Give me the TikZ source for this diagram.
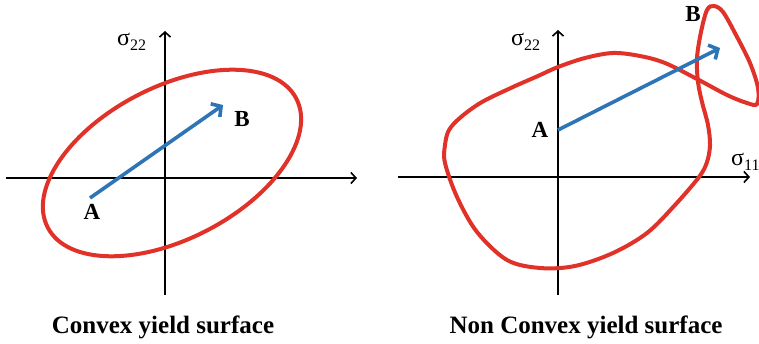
\documentclass[tikz,border=0pt]{standalone}
\usepackage{fontspec}
\setmainfont{Liberation Serif}
\usetikzlibrary{arrows.meta}
\definecolor{redc}{RGB}{224,50,40}
\definecolor{bluec}{RGB}{46,117,182}
\newcommand\sigl[1]{{\fontsize{24}{24}\selectfont σ}\raisebox{-5pt}{\fontsize{16}{16}\selectfont #1}}
\tikzset{
  axisline/.style={line width=1.6pt, -{Straight Barb[length=5pt,width=11pt,line width=1.6pt]}},
  redline/.style={draw=redc, line width=4pt},
  bluearrow/.style={draw=bluec, line width=3.6pt, -{Straight Barb[length=7pt,width=16pt,line width=3.6pt]}},
  ptlabel/.style={font=\fontsize{23}{23}\selectfont\bfseries, inner sep=0pt},
  titlelabel/.style={font=\fontsize{25}{25}\selectfont\bfseries, inner sep=0pt, anchor=base},
  siglabel/.style={inner sep=0pt, anchor=base west}
}
\begin{document}
\begin{tikzpicture}[x=1pt,y=-1pt]
\useasboundingbox (0,0) rectangle (759,344);
% ---------- left panel ----------
\coordinate (LxS) at (6,178);
\coordinate (LxE) at (357,178);
\coordinate (LyS) at (165,295);
\coordinate (LyE) at (165,31);
\draw[axisline] (LxS) -- (LxE);
\draw[axisline] (LyS) -- (LyE);
\node[siglabel] (Ls22) at (117,46) {\sigl{22}};
\coordinate (E1) at (172,163);
\draw[redline, rotate around={27.4:(E1)}] (E1) ellipse [x radius=140pt, y radius=76pt];
\coordinate (LpA) at (90,198);
\coordinate (LpB) at (223,105);
\draw[bluearrow] (LpA) -- (LpB);
\node[ptlabel] (LA) at (92,212) {A};
\node[ptlabel] (LB) at (242,119) {B};
\node[titlelabel] (Lt) at (163,333) {Convex yield surface};
% ---------- right panel ----------
\coordinate (RxS) at (398,177);
\coordinate (RxE) at (750,177);
\coordinate (RyS) at (558,295);
\coordinate (RyE) at (558,30);
\draw[axisline] (RxS) -- (RxE);
\draw[axisline] (RyS) -- (RyE);
\node[siglabel] (Rs22) at (511,46) {\sigl{22}};
\node[siglabel] (Rs11) at (731,166) {\sigl{11}};
\draw[redline] plot[smooth cycle, tension=0.55] coordinates {
 (558,67) (585,58) (613,53) (640,56) (665,63) (697,79) (727,95) (747,103)
 (757,104) (758,88) (750,63) (736,35) (723,12) (714,6) (707,10) (701,32)
 (697,58) (698,82) (702,102) (708,125) (710,145) (707,162) (699,177)
 (675,205) (647,233) (613,253) (575,266) (540,268) (507,260) (477,232)
 (457,197) (445,163) (445,145) (449,130) (461,117) (482,102) (513,87) (538,76)};
\coordinate (RpA) at (558,130);
\coordinate (RpB) at (720,48);
\draw[bluearrow] (RpA) -- (RpB);
\node[ptlabel] (RA) at (540,130) {A};
\node[ptlabel] (RB) at (693,14) {B};
\node[titlelabel] (Rt) at (586,333) {Non Convex yield surface};
\end{tikzpicture}
\end{document}
